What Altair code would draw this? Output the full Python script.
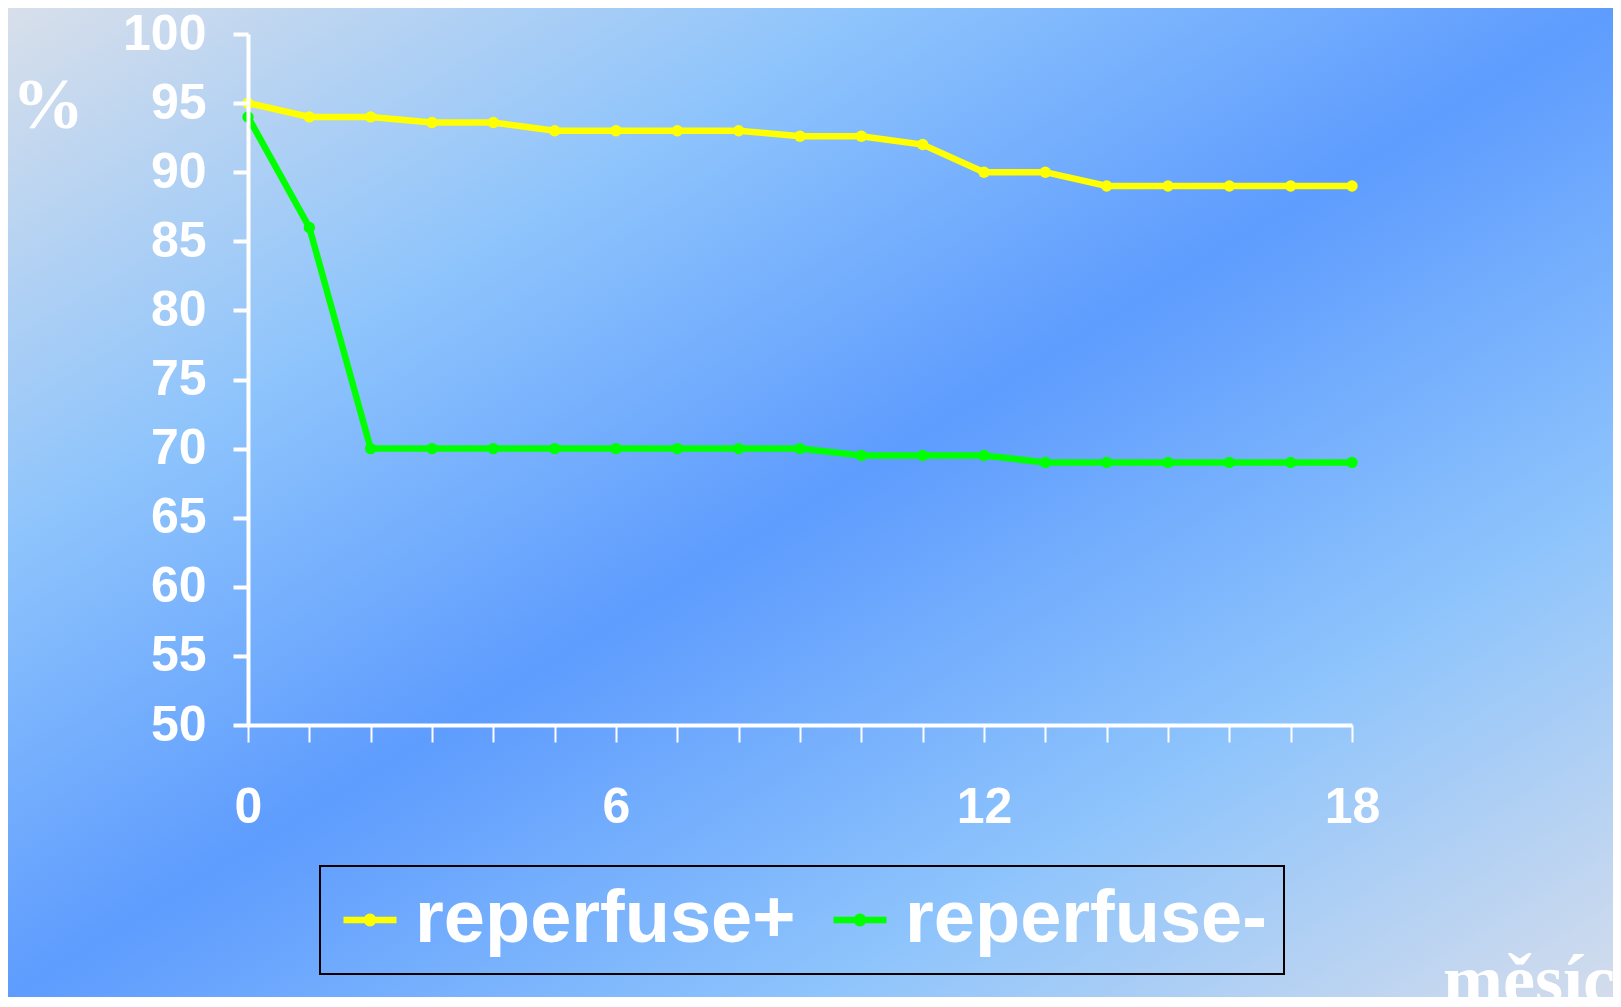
import altair as alt
import pandas as pd

months = list(range(19))
reperfuse_plus = [95, 94, 94, 93.6, 93.6, 93, 93, 93, 93, 92.6, 92.6, 92, 90, 90, 89, 89, 89, 89, 89]
reperfuse_minus = [94, 86, 70, 70, 70, 70, 70, 70, 70, 70, 69.5, 69.5, 69.5, 69, 69, 69, 69, 69, 69]
series_names = ["reperfuse+", "reperfuse-"]
series_colors = ["#ffff00", "#00ff00"]
y_ticks = list(range(50, 101, 5))
x_ticks = list(range(0, 19))

rows = []
for name, vals in zip(series_names, [reperfuse_plus, reperfuse_minus]):
    for m, v in zip(months, vals):
        rows.append({"month": m, "value": v, "series": name})
df = pd.DataFrame(rows)

W, H = 1104, 691
PAD = {"left": 240, "top": 26, "right": 261, "bottom": 272}

bg = alt.Chart(alt.Data(values=[{"a": 1}])).mark_rect(
    color=alt.LinearGradient(
        gradient="linear",
        stops=[
            alt.GradientStop(color="#d8dfea", offset=0),
            alt.GradientStop(color="#8ec4fc", offset=0.27),
            alt.GradientStop(color="#5e9cfe", offset=0.5),
            alt.GradientStop(color="#8ec4fc", offset=0.75),
            alt.GradientStop(color="#d3dcec", offset=1),
        ],
        x1=0, y1=0, x2=1, y2=1,
    )
).encode(
    x=alt.value(-PAD["left"]),
    x2=alt.value(W + PAD["right"]),
    y=alt.value(-PAD["top"]),
    y2=alt.value(H + PAD["bottom"]),
)

legend = alt.Legend(
    title=None,
    orient="none",
    legendX=72,
    legendY=832,
    direction="horizontal",
    labelFont="Liberation Sans",
    labelFontWeight="bold",
    labelFontSize=74,
    labelColor="white",
    labelLimit=0,
    labelOffset=8,
    columnPadding=24,
    padding=17,
    strokeColor="black",
    symbolType="M-1,0H1M-0.12,0A0.12,0.12 0 1,0 0.12,0A0.12,0.12 0 1,0 -0.12,0",
    symbolSize=2809,
    symbolStrokeWidth=6.5,
    symbolOffset=-4,
)

color = alt.Color(
    "series:N",
    scale=alt.Scale(domain=series_names, range=series_colors),
    legend=legend,
)

x = alt.X(
    "month:Q",
    scale=alt.Scale(domain=[0, 18], nice=False, zero=False),
    axis=alt.Axis(
        title=None,
        values=x_ticks,
        labelExpr="datum.value % 6 == 0 ? datum.label : ''",
        tickSize=17,
        tickWidth=2,
        domainWidth=4,
        labelPadding=40,
        labelFlush=False,
        labelOverlap=False,
        zindex=1,
    ),
)
y = alt.Y(
    "value:Q",
    scale=alt.Scale(domain=[50, 100], nice=False, zero=False),
    axis=alt.Axis(
        title=None,
        values=y_ticks,
        tickSize=15,
        tickWidth=4,
        domainWidth=4,
        labelPadding=27,
        labelOverlap=False,
        zindex=1,
    ),
)

base = alt.Chart(df).encode(x=x, y=y, color=color, order=alt.Order("month:Q"))
lines = base.mark_line(strokeWidth=6.5)
points = base.mark_circle(size=130, opacity=1)

pct = alt.Chart(alt.Data(values=[{"t": "%"}])).mark_text(
    font="Liberation Serif", fontWeight="bold", fontSize=72, color="white",
    align="center", baseline="middle",
).encode(x=alt.value(-200), y=alt.value(72), text="t:N")

mesic = alt.Chart(alt.Data(values=[{"t": "měsíc"}])).mark_text(
    font="Liberation Serif", fontWeight="bold", fontSize=72, color="white",
    align="left", baseline="alphabetic",
).encode(x=alt.value(1195), y=alt.value(970), text="t:N")

chart = alt.layer(bg, lines, points, pct, mesic).properties(
    width=W, height=H, padding=PAD, autosize="none",
).configure_view(stroke=None).configure_axis(
    domainColor="white", tickColor="white", labelColor="white",
    labelFont="Liberation Sans", labelFontWeight="bold", labelFontSize=50,
    grid=False,
).configure_legend(strokeWidth=2)

chart.save("out.html", embed_options={"renderer": "svg", "actions": False})
